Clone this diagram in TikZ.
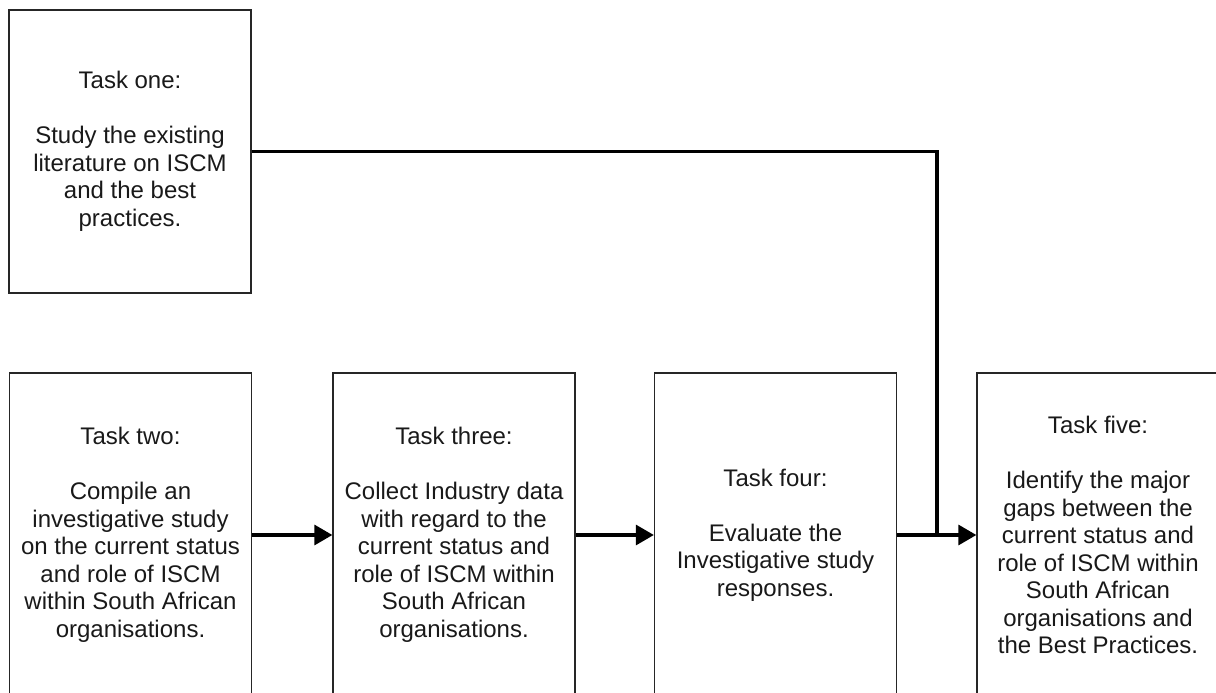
\documentclass[tikz,border=0pt]{standalone}
\usepackage{fontspec}
\setmainfont{Liberation Sans}
\usetikzlibrary{arrows.meta}
\begin{document}
\begin{tikzpicture}[x=1pt,y=-1pt,
  taskbox/.style={draw=black!85, line width=1.3pt, minimum width=242pt, align=center, inner sep=0pt,
    font=\fontsize{24}{27.5}\selectfont, text=black!90},
  topbox/.style={taskbox, minimum height=283pt},
  lowbox/.style={taskbox, minimum height=324pt},
  conn/.style={line width=3.2pt, black},
  arr/.style={conn, -{Triangle[length=18pt,width=20pt]}}]
\useasboundingbox (0,0) rectangle (1216,693);
\clip (0,0) rectangle (1216,693);
\node[topbox] (t1) at (130,151.5) {Task one:\\[27.5pt]Study the existing\\literature on ISCM\\and the best\\practices.};
\node[lowbox] (t2) at (130.5,535) {Task two:\\[27.5pt]Compile an\\investigative study\\on the current status\\and role of ISCM\\within South African\\organisations.};
\node[lowbox] (t3) at (454,535) {Task three:\\[27.5pt]Collect Industry data\\with regard to the\\current status and\\role of ISCM within\\South African\\organisations.};
\node[lowbox] (t4) at (775.5,535) {Task four:\\[27.5pt]Evaluate the\\Investigative study\\responses.};
\node[lowbox] (t5) at (1098,535) {Task five:\\[27.5pt]Identify the major\\gaps between the\\current status and\\role of ISCM within\\South African\\organisations and\\the Best Practices.};
\coordinate (j) at (937,535);
\draw[arr] (t2.east) -- (t3.west);
\draw[arr] (t3.east) -- (t4.west);
\draw[arr] (t4.east) -- (t5.west);
\draw[conn, line join=miter] (t1.east) -| (j);
\end{tikzpicture}
\end{document}
